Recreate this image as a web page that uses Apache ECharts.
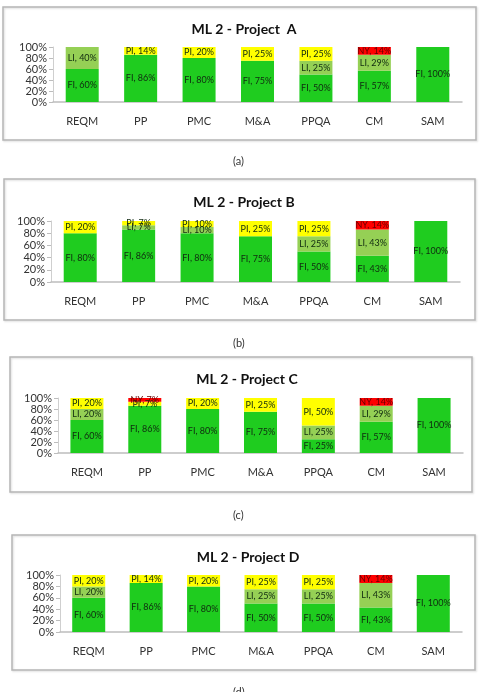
<!DOCTYPE html>
<html>
<head>
<meta charset="utf-8">
<script src="https://cdn.jsdelivr.net/npm/echarts@6/dist/echarts.min.js"></script>
<style>
  html, body { margin: 0; padding: 0; background: #fff; }
  #chart { width: 482px; height: 692px; }
</style>
</head>
<body>
<div id="chart"></div>
<script>
const categories = ['REQM', 'PP', 'PMC', 'M&A', 'PPQA', 'CM', 'SAM']
const levels = ['FI', 'LI', 'PI', 'NY']
const levelColors = ['#1fcc1f', '#95d055', '#ffff00', '#ff0000']

// percentages per process area
const fiA = [60, 86, 80, 75, 50, 57, 100]
const liA = [40, 0, 0, 0, 25, 29, 0]
const piA = [0, 14, 20, 25, 25, 0, 0]
const nyA = [0, 0, 0, 0, 0, 14, 0]

const fiB = [80, 86, 80, 75, 50, 43, 100]
const liB = [0, 7, 10, 0, 25, 43, 0]
const piB = [20, 7, 10, 25, 25, 0, 0]
const nyB = [0, 0, 0, 0, 0, 14, 0]

const fiC = [60, 86, 80, 75, 25, 57, 100]
const liC = [20, 0, 0, 0, 25, 29, 0]
const piC = [20, 7, 20, 25, 50, 0, 0]
const nyC = [0, 7, 0, 0, 0, 14, 0]

const fiD = [60, 86, 80, 50, 50, 43, 100]
const liD = [20, 0, 0, 25, 25, 43, 0]
const piD = [20, 14, 20, 25, 25, 0, 0]
const nyD = [0, 0, 0, 0, 0, 14, 0]

const titles = ['ML 2 - Project  A', 'ML 2 - Project B', 'ML 2 - Project C', 'ML 2 - Project D']
const captions = ['(a)', '(b)', '(c)', '(d)']

const panels = [
    { data: [fiA, liA, piA, nyA], grid: { left: 53, right: 20, top: 47, height: 55 }, titleX: 239, titleY: 17, box: [3, 7, 473, 133], capY: 163 },
    { data: [fiB, liB, piB, nyB], grid: { left: 51, right: 22, top: 221, height: 61 }, titleX: 239, titleY: 190, box: [4, 179, 471, 141], capY: 345 },
    { data: [fiC, liC, piC, nyC], grid: { left: 58, right: 19, top: 398, height: 55 }, titleX: 242, titleY: 367, box: [10, 357, 462, 135], capY: 517 },
    { data: [fiD, liD, piD, nyD], grid: { left: 60, right: 20, top: 575, height: 57 }, titleX: 243, titleY: 545, box: [12, 535, 463, 135], capY: 694 },
]

const font = 'Lato, "Open Sans", sans-serif'

let option = {
    animation: false,
    backgroundColor: '#fff',
    title: [],
    grid: [],
    xAxis: [],
    yAxis: [],
    series: [],
    graphic: [],
}

panels.forEach((p, i) => {
    option.title.push({
        text: titles[i],
        left: p.titleX,
        top: p.titleY,
        textAlign: 'center',
        textStyle: { fontFamily: font, fontSize: 14, fontWeight: 'bold', color: '#111' },
    })
    option.grid.push(p.grid)
    option.xAxis.push({
        type: 'category',
        gridIndex: i,
        data: categories,
        axisTick: { show: false },
        axisLine: { lineStyle: { color: '#bdbdbd', width: 1.5 } },
        axisLabel: { color: '#333', fontFamily: font, fontSize: 11, margin: 14 },
    })
    option.yAxis.push({
        type: 'value',
        gridIndex: i,
        min: 0,
        max: 100,
        interval: 20,
        splitLine: { show: false },
        axisLine: { show: true, lineStyle: { color: '#cfcfcf' } },
        axisTick: { show: true, length: 4, lineStyle: { color: '#bdbdbd' } },
        axisLabel: {
            formatter: '{value}%', color: '#333', fontFamily: font, fontSize: 11, margin: 6,
            interval: 0, showMinLabel: true, showMaxLabel: true,
        },
    })
    levels.forEach((lv, k) => {
        option.series.push({
            name: lv,
            type: 'bar',
            stack: 'p' + i,
            xAxisIndex: i,
            yAxisIndex: i,
            barWidth: 33,
            data: p.data[k],
            itemStyle: { color: levelColors[k] },
            label: {
                show: true,
                position: 'inside',
                fontFamily: font,
                fontSize: 9,
                color: k == 3 ? '#600' : '#102a10',
                formatter: (d) => d.value > 0 ? d.seriesName + ', ' + d.value + '%' : '',
            },
        })
    })
    option.graphic.push({
        type: 'rect',
        shape: { x: p.box[0], y: p.box[1], width: p.box[2], height: p.box[3] },
        style: { fill: 'none', stroke: '#b5b5b5', lineWidth: 1.5, shadowBlur: 2, shadowColor: 'rgba(0,0,0,0.15)', shadowOffsetX: 1, shadowOffsetY: 1 },
        silent: true,
    })
    option.graphic.push({
        type: 'text',
        left: 233,
        top: p.capY - 7,
        style: { text: captions[i], fill: '#333', font: '11px ' + font },
    })
})

const chart = echarts.init(document.getElementById('chart'), null, { renderer: 'canvas' })
chart.setOption(option)
</script>
</body>
</html>
